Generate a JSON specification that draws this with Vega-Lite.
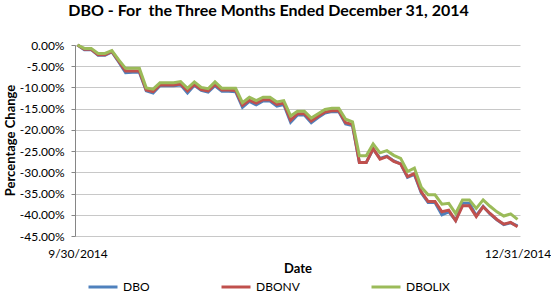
{
  "$schema": "https://vega.github.io/schema/vega-lite/v6.json",
  "width": 445,
  "height": 191,
  "autosize": {"type": "none"},
  "padding": {"left": 75, "top": 45, "right": 31, "bottom": 57},
  "background": "white",
  "title": {
    "text": "DBO - For\u00a0 the Three Months Ended December 31, 2014",
    "font": "Lato",
    "fontSize": 16,
    "fontWeight": "bold",
    "color": "#000000",
    "anchor": "middle",
    "dx": -29,
    "offset": 20
  },
  "data": {
    "values": [
      {"date": "9/30/2014", "DBO": 0, "DBONV": 0, "DBOLIX": 0},
      {"date": "10/1/2014", "DBO": -0.011, "DBONV": -0.010, "DBOLIX": -0.008},
      {"date": "10/2/2014", "DBO": -0.011, "DBONV": -0.010, "DBOLIX": -0.008},
      {"date": "10/3/2014", "DBO": -0.024, "DBONV": -0.023, "DBOLIX": -0.020},
      {"date": "10/6/2014", "DBO": -0.024, "DBONV": -0.023, "DBOLIX": -0.020},
      {"date": "10/7/2014", "DBO": -0.016, "DBONV": -0.015, "DBOLIX": -0.013},
      {"date": "10/8/2014", "DBO": -0.040, "DBONV": -0.038, "DBOLIX": -0.035},
      {"date": "10/9/2014", "DBO": -0.065, "DBONV": -0.061, "DBOLIX": -0.055},
      {"date": "10/10/2014", "DBO": -0.064, "DBONV": -0.061, "DBOLIX": -0.055},
      {"date": "10/13/2014", "DBO": -0.064, "DBONV": -0.061, "DBOLIX": -0.055},
      {"date": "10/14/2014", "DBO": -0.108, "DBONV": -0.106, "DBOLIX": -0.101},
      {"date": "10/15/2014", "DBO": -0.113, "DBONV": -0.110, "DBOLIX": -0.104},
      {"date": "10/16/2014", "DBO": -0.096, "DBONV": -0.094, "DBOLIX": -0.089},
      {"date": "10/17/2014", "DBO": -0.096, "DBONV": -0.094, "DBOLIX": -0.089},
      {"date": "10/20/2014", "DBO": -0.096, "DBONV": -0.094, "DBOLIX": -0.089},
      {"date": "10/21/2014", "DBO": -0.094, "DBONV": -0.092, "DBOLIX": -0.086},
      {"date": "10/22/2014", "DBO": -0.113, "DBONV": -0.108, "DBOLIX": -0.102},
      {"date": "10/23/2014", "DBO": -0.095, "DBONV": -0.093, "DBOLIX": -0.087},
      {"date": "10/24/2014", "DBO": -0.107, "DBONV": -0.105, "DBOLIX": -0.100},
      {"date": "10/27/2014", "DBO": -0.111, "DBONV": -0.108, "DBOLIX": -0.103},
      {"date": "10/28/2014", "DBO": -0.096, "DBONV": -0.093, "DBOLIX": -0.087},
      {"date": "10/29/2014", "DBO": -0.109, "DBONV": -0.106, "DBOLIX": -0.102},
      {"date": "10/30/2014", "DBO": -0.109, "DBONV": -0.106, "DBOLIX": -0.102},
      {"date": "10/31/2014", "DBO": -0.110, "DBONV": -0.107, "DBOLIX": -0.102},
      {"date": "11/3/2014", "DBO": -0.147, "DBONV": -0.142, "DBOLIX": -0.136},
      {"date": "11/4/2014", "DBO": -0.133, "DBONV": -0.130, "DBOLIX": -0.123},
      {"date": "11/5/2014", "DBO": -0.141, "DBONV": -0.137, "DBOLIX": -0.131},
      {"date": "11/6/2014", "DBO": -0.132, "DBONV": -0.129, "DBOLIX": -0.123},
      {"date": "11/7/2014", "DBO": -0.132, "DBONV": -0.129, "DBOLIX": -0.123},
      {"date": "11/10/2014", "DBO": -0.144, "DBONV": -0.140, "DBOLIX": -0.134},
      {"date": "11/11/2014", "DBO": -0.140, "DBONV": -0.137, "DBOLIX": -0.131},
      {"date": "11/12/2014", "DBO": -0.182, "DBONV": -0.177, "DBOLIX": -0.167},
      {"date": "11/13/2014", "DBO": -0.165, "DBONV": -0.162, "DBOLIX": -0.156},
      {"date": "11/14/2014", "DBO": -0.165, "DBONV": -0.162, "DBOLIX": -0.156},
      {"date": "11/17/2014", "DBO": -0.183, "DBONV": -0.179, "DBOLIX": -0.172},
      {"date": "11/18/2014", "DBO": -0.171, "DBONV": -0.168, "DBOLIX": -0.162},
      {"date": "11/19/2014", "DBO": -0.160, "DBONV": -0.158, "DBOLIX": -0.152},
      {"date": "11/20/2014", "DBO": -0.157, "DBONV": -0.155, "DBOLIX": -0.149},
      {"date": "11/21/2014", "DBO": -0.157, "DBONV": -0.155, "DBOLIX": -0.149},
      {"date": "11/24/2014", "DBO": -0.186, "DBONV": -0.183, "DBOLIX": -0.175},
      {"date": "11/25/2014", "DBO": -0.190, "DBONV": -0.187, "DBOLIX": -0.181},
      {"date": "11/26/2014", "DBO": -0.277, "DBONV": -0.277, "DBOLIX": -0.261},
      {"date": "11/28/2014", "DBO": -0.277, "DBONV": -0.277, "DBOLIX": -0.261},
      {"date": "12/1/2014", "DBO": -0.245, "DBONV": -0.244, "DBOLIX": -0.233},
      {"date": "12/2/2014", "DBO": -0.267, "DBONV": -0.269, "DBOLIX": -0.254},
      {"date": "12/3/2014", "DBO": -0.262, "DBONV": -0.263, "DBOLIX": -0.249},
      {"date": "12/4/2014", "DBO": -0.273, "DBONV": -0.274, "DBOLIX": -0.260},
      {"date": "12/5/2014", "DBO": -0.280, "DBONV": -0.280, "DBOLIX": -0.267},
      {"date": "12/8/2014", "DBO": -0.312, "DBONV": -0.310, "DBOLIX": -0.298},
      {"date": "12/9/2014", "DBO": -0.305, "DBONV": -0.303, "DBOLIX": -0.290},
      {"date": "12/10/2014", "DBO": -0.348, "DBONV": -0.346, "DBOLIX": -0.335},
      {"date": "12/11/2014", "DBO": -0.371, "DBONV": -0.369, "DBOLIX": -0.353},
      {"date": "12/12/2014", "DBO": -0.371, "DBONV": -0.369, "DBOLIX": -0.353},
      {"date": "12/15/2014", "DBO": -0.400, "DBONV": -0.393, "DBOLIX": -0.375},
      {"date": "12/16/2014", "DBO": -0.393, "DBONV": -0.389, "DBOLIX": -0.373},
      {"date": "12/17/2014", "DBO": -0.413, "DBONV": -0.414, "DBOLIX": -0.397},
      {"date": "12/18/2014", "DBO": -0.373, "DBONV": -0.379, "DBOLIX": -0.365},
      {"date": "12/19/2014", "DBO": -0.373, "DBONV": -0.379, "DBOLIX": -0.365},
      {"date": "12/22/2014", "DBO": -0.402, "DBONV": -0.404, "DBOLIX": -0.385},
      {"date": "12/23/2014", "DBO": -0.380, "DBONV": -0.381, "DBOLIX": -0.365},
      {"date": "12/24/2014", "DBO": -0.398, "DBONV": -0.397, "DBOLIX": -0.380},
      {"date": "12/26/2014", "DBO": -0.412, "DBONV": -0.411, "DBOLIX": -0.393},
      {"date": "12/29/2014", "DBO": -0.423, "DBONV": -0.422, "DBOLIX": -0.403},
      {"date": "12/30/2014", "DBO": -0.419, "DBONV": -0.418, "DBOLIX": -0.398},
      {"date": "12/31/2014", "DBO": -0.426, "DBONV": -0.428, "DBOLIX": -0.411}
    ]
  },
  "transform": [
    {"fold": ["DBO", "DBONV", "DBOLIX"], "as": ["series", "change"]}
  ],
  "mark": {"type": "line", "strokeWidth": 3, "interpolate": "linear"},
  "encoding": {
    "x": {
      "field": "date",
      "type": "ordinal",
      "sort": null,
      "scale": {"type": "point", "padding": 0.36},
      "axis": {
        "values": ["9/30/2014", "12/31/2014"],
        "title": "Date",
        "labelAngle": 0,
        "labelFont": "Lato",
        "labelFontSize": 12,
        "labelColor": "#000000",
        "labelPadding": 12,
        "ticks": false,
        "tickSize": 0,
        "domain": false,
        "grid": false,
        "titleFont": "Lato",
        "titleFontSize": 13,
        "titleFontWeight": "bold",
        "titleColor": "#000000",
        "titlePadding": 3
      }
    },
    "y": {
      "field": "change",
      "type": "quantitative",
      "scale": {"domain": [-0.45, 0], "nice": false, "zero": false},
      "axis": {
        "values": [0, -0.05, -0.1, -0.15, -0.2, -0.25, -0.3, -0.35, -0.4, -0.45],
        "labelExpr": "replace(format(datum.value, '.2%'), '\u2212', '-')",
        "title": "Percentage Change",
        "labelFont": "Lato",
        "labelFontSize": 12,
        "labelColor": "#000000",
        "labelPadding": 7,
        "tickSize": 4,
        "tickColor": "#868686",
        "domainColor": "#868686",
        "gridColor": "#c8c8c8",
        "titleFont": "Lato",
        "titleFontSize": 13,
        "titleFontWeight": "bold",
        "titleColor": "#000000",
        "titleX": -58,
        "titleY": 95,
        "titleBaseline": "bottom",
        "titleAngle": -90,
        "titleAlign": "center"
      }
    },
    "color": {
      "field": "series",
      "type": "nominal",
      "sort": ["DBO", "DBONV", "DBOLIX"],
      "scale": {"domain": ["DBO", "DBONV", "DBOLIX"], "range": ["#4F81BD", "#C0504D", "#9BBB59"]},
      "legend": {
        "title": null,
        "orient": "none",
        "direction": "horizontal",
        "legendX": 12,
        "legendY": 226,
        "symbolType": "stroke",
        "symbolSize": 841,
        "symbolStrokeWidth": 3,
        "labelFont": "Lato",
        "labelFontSize": 12,
        "labelColor": "#000000",
        "labelOffset": 4,
        "columnPadding": 65,
        "padding": 0
      }
    }
  },
  "config": {"view": {"stroke": null}}
}
